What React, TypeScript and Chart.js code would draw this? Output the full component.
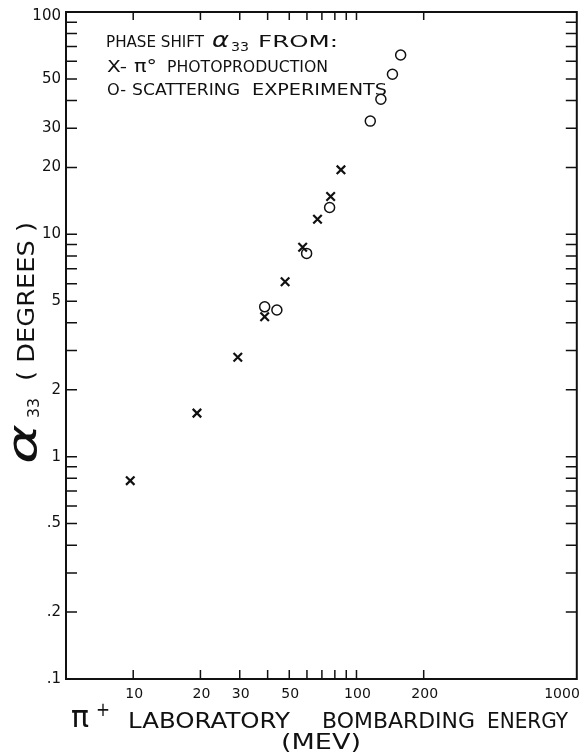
import React, { useEffect, useRef } from "react";
import { Chart, registerables } from "chart.js";

Chart.register(...registerables);

// pi0 photoproduction results (crosses)
const photoEnergy = [9.7, 19.3, 29.4, 38.8, 47.9, 57.4, 66.9, 76.6, 85.2];
const photoAlpha = [0.78, 1.57, 2.8, 4.26, 6.12, 8.74, 11.7, 14.8, 19.5];

// scattering experiment results (open circles)
const scatEnergy = [38.8, 44.0, 59.8, 75.8, 115.3, 128.6, 144.9, 157.7];
const scatAlpha = [4.72, 4.57, 8.21, 13.2, 32.3, 40.5, 52.5, 64.1];

// axis ticks
const xTickValues = [10, 20, 30, 40, 50, 60, 70, 80, 90, 100, 200];
const xLabelValues = [10, 20, 30, 50, 100, 200, 1000];
const xLabelText = ["10", "20", "30", "50", "100", "200", "1000"];

const yTickValues = [
  0.2, 0.3, 0.4, 0.5, 0.6, 0.7, 0.8, 0.9,
  1, 2, 3, 4, 5, 6, 7, 8, 9,
  10, 20, 30, 40, 50, 60, 70, 80, 90,
];
const yLabelValues = [100, 50, 30, 20, 10, 5, 2, 1, 0.5, 0.2, 0.1];
const yLabelText = ["100", "50", "30", "20", "10", "5", "2", "1", ".5", ".2", ".1"];

const FONT = '"DejaVu Sans", sans-serif';
const INK = "#111";

// Draw a text run starting at x on baseline y, squeezed/stretched to the given width.
function fitText(
  ctx: CanvasRenderingContext2D,
  text: string,
  x: number,
  y: number,
  width: number,
  size: number,
  style = ""
) {
  ctx.save();
  ctx.font = `${style} ${size}px ${FONT}`;
  const w = ctx.measureText(text).width || 1;
  ctx.translate(x, y);
  ctx.scale(width / w, 1);
  ctx.textAlign = "left";
  ctx.textBaseline = "alphabetic";
  ctx.fillText(text, 0, 0);
  ctx.restore();
}

const framePlugin = {
  id: "frameAndText",
  afterDatasetsDraw(chart: any) {
    const { ctx, chartArea, scales } = chart;
    const { left, right, top, bottom } = chartArea;
    const xs = scales.x;
    const ys = scales.y;
    ctx.save();
    ctx.strokeStyle = INK;
    ctx.fillStyle = INK;

    // plot frame
    ctx.lineWidth = 2;
    ctx.strokeRect(left, top, right - left, bottom - top);

    // inward tick marks on all four sides
    ctx.lineWidth = 1.5;
    ctx.beginPath();
    for (const v of yTickValues) {
      const py = ys.getPixelForValue(v);
      ctx.moveTo(left, py);
      ctx.lineTo(left + 11, py);
      ctx.moveTo(right, py);
      ctx.lineTo(right - 11, py);
    }
    for (const v of xTickValues) {
      const px = xs.getPixelForValue(v);
      ctx.moveTo(px, bottom);
      ctx.lineTo(px, bottom - 9);
      ctx.moveTo(px, top);
      ctx.lineTo(px, top + 8);
    }
    ctx.stroke();

    // y tick labels
    ctx.font = `15px ${FONT}`;
    ctx.textAlign = "right";
    ctx.textBaseline = "middle";
    yLabelValues.forEach((v, i) => {
      const py = Math.max(ys.getPixelForValue(v), top + 4);
      ctx.fillText(yLabelText[i], left - 5, py);
    });

    // x tick labels
    ctx.font = `14px ${FONT}`;
    ctx.textBaseline = "alphabetic";
    xLabelValues.forEach((v, i) => {
      if (v >= 1000) {
        ctx.textAlign = "right";
        ctx.fillText(xLabelText[i], right + 3, bottom + 19);
      } else {
        ctx.textAlign = "center";
        ctx.fillText(xLabelText[i], xs.getPixelForValue(v) + 1, bottom + 19);
      }
    });

    // x axis title
    fitText(ctx, "π", 71, 727, 18, 30);
    fitText(ctx, "+", 96, 716, 14, 19);
    fitText(ctx, "LABORATORY", 128, 728, 162, 22);
    fitText(ctx, "BOMBARDING", 322, 728, 153, 22);
    fitText(ctx, "ENERGY", 487, 728, 81, 22);
    fitText(ctx, "(MEV)", 281, 749, 80, 21);

    // y axis title (rotated, reading bottom to top)
    ctx.save();
    ctx.rotate(-Math.PI / 2);
    fitText(ctx, "α", -464, 36, 40, 40, "italic");
    fitText(ctx, "33", -418, 39, 20, 15);
    fitText(ctx, "( DEGREES )", -381, 34, 159, 23);
    ctx.restore();

    // key
    fitText(ctx, "PHASE SHIFT", 106, 47, 98, 16);
    fitText(ctx, "α", 212, 47, 17, 22, "italic");
    fitText(ctx, "33", 231, 51, 18, 12);
    fitText(ctx, "FROM:", 258, 47, 80, 16);
    fitText(ctx, "X-", 107, 72, 20, 16);
    fitText(ctx, "π°", 134, 72, 23, 18);
    fitText(ctx, "PHOTOPRODUCTION", 167, 72, 161, 16);
    fitText(ctx, "O-", 107, 95, 19, 16);
    fitText(ctx, "SCATTERING", 132, 95, 108, 16);
    fitText(ctx, "EXPERIMENTS", 252, 95, 135, 16);

    ctx.restore();
  },
};

export default function App() {
  const canvasRef = useRef<HTMLCanvasElement | null>(null);

  useEffect(() => {
    const canvas = canvasRef.current;
    if (!canvas) return;
    const chart = new Chart(canvas, {
      type: "scatter",
      data: {
        datasets: [
          {
            label: "photoproduction",
            data: photoEnergy.map((e, i) => ({ x: e, y: photoAlpha[i] })),
            pointStyle: "crossRot",
            radius: 6,
            borderWidth: 2.2,
            borderColor: INK,
            backgroundColor: INK,
          },
          {
            label: "scattering",
            data: scatEnergy.map((e, i) => ({ x: e, y: scatAlpha[i] })),
            pointStyle: "circle",
            radius: 5,
            borderWidth: 1.5,
            borderColor: INK,
            backgroundColor: "rgba(0,0,0,0)",
          },
        ],
      },
      options: {
        animation: false,
        responsive: false,
        devicePixelRatio: 1,
        layout: { padding: { left: 66, top: 12, right: 3, bottom: 75 } },
        plugins: {
          legend: { display: false },
          tooltip: { enabled: false },
        },
        elements: { point: { hoverRadius: 5 } },
        scales: {
          x: { type: "logarithmic", min: 5, max: 970, display: false },
          y: { type: "logarithmic", min: 0.1, max: 100, display: false },
        },
      },
      plugins: [framePlugin],
    });
    return () => chart.destroy();
  }, []);

  return (
    <div
      style={{
        position: "fixed",
        left: 0,
        top: 0,
        width: 585,
        height: 754,
        background: "#fff",
      }}
    >
      <canvas
        ref={canvasRef}
        width={585}
        height={754}
        style={{ width: 585, height: 754, display: "block" }}
      />
    </div>
  );
}
